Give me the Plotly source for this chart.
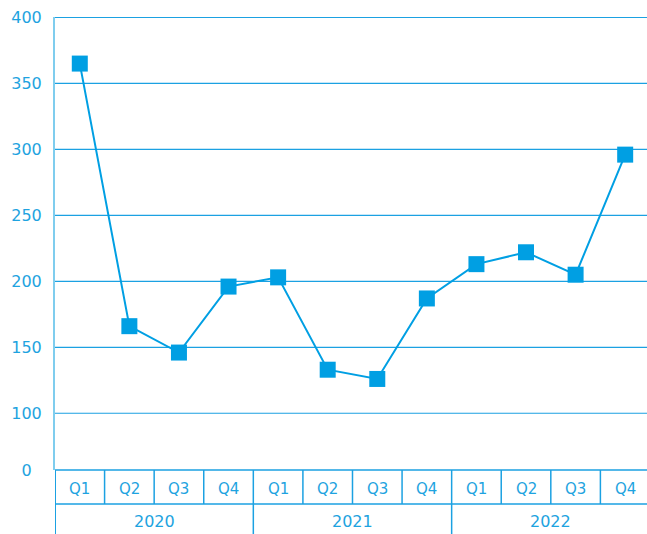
import plotly.graph_objects as go

quarters = ["Q1", "Q2", "Q3", "Q4"] * 3
years = ["2020", "2021", "2022"]
values = [365, 166, 146, 196, 203, 133, 126, 187, 213, 222, 205, 296]
y_tickvals = [57, 100, 150, 200, 250, 300, 350, 400]
y_ticktext = ["0\u00a0\u00a0", "100", "150", "200", "250", "300", "350", "400"]
grid_vals = [100, 150, 200, 250, 300, 350, 400]

MAIN = "#009fe3"
LINE = "#1ba1e2"
TEXT = "#1ea3e0"
FONT = "DejaVu Sans"

W, H = 647, 534
ML, MT, MB = 55, 17, 64
plot_h = H - MT - MB

x_idx = list(range(len(values)))

fig = go.Figure()
fig.add_trace(go.Scatter(
    x=x_idx, y=values, mode="lines+markers",
    line=dict(color=MAIN, width=2),
    marker=dict(symbol="square", size=16, color=MAIN),
    cliponaxis=False, hoverinfo="skip"
))

def py(px):
    return -px / plot_h

shapes = []
for g in grid_vals:
    shapes.append(dict(type="line", xref="paper", yref="y", x0=0, x1=1, y0=g, y1=g,
                       layer="below", line=dict(color=LINE, width=1.2)))
row1 = py(34)
bottom = py(MB + 2)
for yy in [0, row1]:
    shapes.append(dict(type="line", xref="x", yref="paper", x0=-0.5, x1=len(values) - 0.5,
                       y0=yy, y1=yy, line=dict(color=LINE, width=1.5)))
for i in range(1, len(values)):
    b = i - 0.5
    full = (i % 4 == 0)
    shapes.append(dict(type="line", xref="x", yref="paper", x0=b, x1=b,
                       y0=0, y1=bottom if full else row1,
                       line=dict(color=LINE, width=1.5)))
shapes.append(dict(type="line", xref="x", yref="paper", x0=-0.5, x1=-0.5,
                   y0=0, y1=bottom, line=dict(color=LINE, width=2)))

annotations = []
for i, q in enumerate(quarters):
    annotations.append(dict(x=i, y=py(19), xref="x", yref="paper", text=q,
                            showarrow=False, font=dict(family=FONT, size=15, color=TEXT),
                            xanchor="center", yanchor="middle"))
for j, yr in enumerate(years):
    annotations.append(dict(x=j * 4 + 1.5, y=py(51), xref="x", yref="paper", text=yr,
                            showarrow=False, font=dict(family=FONT, size=16, color=TEXT),
                            xanchor="center", yanchor="middle"))

fig.update_layout(
    template="none",
    width=W, height=H,
    margin=dict(l=ML, r=0, t=MT, b=MB, pad=0),
    paper_bgcolor="white", plot_bgcolor="white",
    showlegend=False,
    hovermode=False,
    shapes=shapes,
    annotations=annotations,
    xaxis=dict(range=[-0.5, len(values) - 0.5 - 0.06], showticklabels=False,
               showgrid=False, zeroline=False, showline=False, fixedrange=True),
    yaxis=dict(range=[57, 400.3], tickvals=y_tickvals, ticktext=y_ticktext,
               showgrid=False, zeroline=False,
               showline=True, linecolor="#7fcdee", linewidth=2,
               ticks="", ticklabelstandoff=8,
               tickfont=dict(family=FONT, size=16, color=TEXT), fixedrange=True),
)

fig.write_html("out.html", config={"displayModeBar": False, "staticPlot": True},
               post_script="document.body.style.margin='0';document.body.style.overflow='hidden';")
